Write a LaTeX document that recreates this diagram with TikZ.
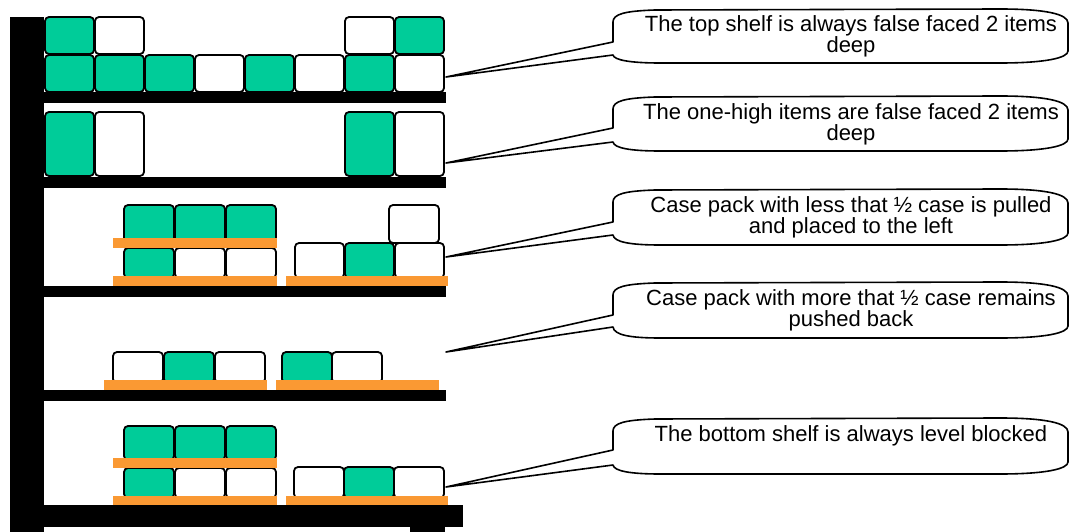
\documentclass[tikz,border=0pt]{standalone}
\usepackage{fontspec}
\setmainfont{Liberation Sans}
\definecolor{itemgreen}{RGB}{0,204,153}
\definecolor{palletorange}{RGB}{250,153,51}
\tikzset{
  item/.style={draw=black, line width=1.8pt, rounded corners=4pt},
  board/.style={fill=palletorange},
  rack/.style={fill=black},
  bubble/.style={draw=black, line width=1.6pt, fill=white, line join=round},
  note/.style={font=\fontsize{22}{21}\selectfont, align=center, inner sep=0pt}
}

\begin{document}
\begin{tikzpicture}[x=1pt, y=-1pt]
    \useasboundingbox (0,0) rectangle (1069,532);
    % top shelf, back row and front row
    \foreach \x/\c in {45/itemgreen, 95/white, 345/white, 395/itemgreen}
        \draw [item, fill=\c] (\x,17) rectangle ++(49,37);
    \foreach \x/\c in {45/itemgreen, 95/itemgreen, 145/itemgreen, 195/white, 245/itemgreen, 295/white, 345/itemgreen, 395/white}
        \draw [item, fill=\c] (\x,55) rectangle ++(49,37);
    % one-high items
    \foreach \x/\c in {45/itemgreen, 95/white, 345/itemgreen, 395/white}
        \draw [item, fill=\c] (\x,112) rectangle ++(49,64);
    % case pack pulled to the left
    \foreach \x in {124,175,226}
        \draw [item, fill=itemgreen] (\x,205) rectangle ++(50,38);
    \foreach \x/\c in {124/itemgreen, 175/white, 226/white}
        \draw [item, fill=\c] (\x,248) rectangle ++(50,30);
    \draw [item, fill=white] (389,205) rectangle (439,243);
    \foreach \x/\c in {295/white, 345/itemgreen, 395/white}
        \draw [item, fill=\c] (\x,243) rectangle ++(49,35);
    \fill [board] (113,238) rectangle (277,248);
    \fill [board] (113,276) rectangle (277,286);
    \fill [board] (286,276) rectangle (448,286);
    % case pack pushed back
    \foreach \x/\c in {113/white, 164/itemgreen, 215/white, 282/itemgreen, 332/white}
        \draw [item, fill=\c] (\x,352) rectangle ++(50,31);
    \fill [board] (104,380) rectangle (267,390);
    \fill [board] (276,380) rectangle (439,390);
    % bottom shelf
    \foreach \x in {124,175,226}
        \draw [item, fill=itemgreen] (\x,426) rectangle ++(50,34);
    \foreach \x/\c in {124/itemgreen, 175/white, 226/white}
        \draw [item, fill=\c] (\x,468) rectangle ++(50,30);
    \foreach \x/\c in {294/white, 344/itemgreen, 394/white}
        \draw [item, fill=\c] (\x,467) rectangle ++(50,31);
    \fill [board] (113,458) rectangle (277,468);
    \fill [board] (113,496) rectangle (277,506);
    \fill [board] (286,496) rectangle (448,506);
    % upright and shelves
    \fill [rack] (10,17) rectangle (44,532);
    \fill [rack] (44,92) rectangle (446,103);
    \fill [rack] (44,177) rectangle (446,188);
    \fill [rack] (44,286) rectangle (446,297);
    \fill [rack] (44,390) rectangle (446,401);
    \fill [rack] (44,505) rectangle (463,527);
    \fill [rack] (410,527) rectangle (445,532);
    % callouts
    \coordinate (tip1) at (446,77);
    \coordinate (tip2) at (446,163);
    \coordinate (tip3) at (446,257);
    \coordinate (tip4) at (446,352);
    \coordinate (tip5) at (446,487);
    \foreach \i/\ya/\yb/\yu/\yl in {1/9/63/42/55, 2/96/151/128/142, 3/189/245/222/235, 4/282/338/315/327, 5/418/474/450/465}
        \draw [bubble] (tip\i) -- (613,\yu) -- (613,\ya+13)
            .. controls (613,\ya+5) and (625,\ya+2) .. (655,\ya+1) -- (1000,\ya)
            .. controls (1045,\ya) and (1068,\ya+5) .. (1068,\ya+14) -- (1068,\yb-12)
            .. controls (1068,\yb-5) and (1045,\yb) .. (1000,\yb) -- (660,\yb)
            .. controls (630,\yb) and (614,\yb-3) .. (613,\yl) -- cycle;
    \node [note] (note1) at (851,36) {The top shelf is always false faced 2 items\\deep};
    \node [note] (note2) at (851,124) {The one-high items are false faced 2 items\\deep};
    \node [note] (note3) at (851,217) {Case pack with less that ½ case is pulled\\and placed to the left};
    \node [note] (note4) at (851,310) {Case pack with more that ½ case remains\\pushed back};
    \node [note] (note5) at (851,436) {The bottom shelf is always level blocked};
\end{tikzpicture}
\end{document}
